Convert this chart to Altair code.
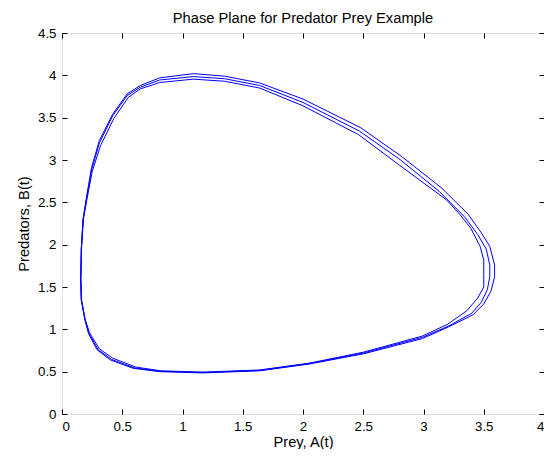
import altair as alt
import pandas as pd

# Three slightly drifting orbits (prey A, predators B)
a_outer = [3.59, 3.55, 3.48, 3.37, 3.15, 2.82, 2.48, 2.00, 1.64, 1.35, 1.09, 0.81, 0.65, 0.54, 0.42, 0.31, 0.245, 0.20, 0.175, 0.16, 0.155, 0.16, 0.19, 0.22, 0.29, 0.40, 0.59, 0.81, 1.17, 1.64, 2.05, 2.50, 2.99, 3.21, 3.41, 3.50, 3.56, 3.59, 3.59]
b_outer = [1.76, 1.98, 2.14, 2.36, 2.67, 3.04, 3.38, 3.72, 3.91, 3.99, 4.02, 3.97, 3.88, 3.78, 3.54, 3.23, 2.91, 2.53, 2.30, 1.95, 1.60, 1.35, 1.11, 0.95, 0.76, 0.64, 0.54, 0.50, 0.485, 0.51, 0.59, 0.71, 0.89, 1.03, 1.17, 1.30, 1.45, 1.62, 1.76]

a_mid = [3.55, 3.52, 3.45, 3.34, 3.13, 2.81, 2.47, 2.00, 1.64, 1.35, 1.09, 0.81, 0.65, 0.54, 0.42, 0.31, 0.245, 0.20, 0.175, 0.16, 0.155, 0.16, 0.19, 0.225, 0.30, 0.41, 0.60, 0.81, 1.17, 1.64, 2.05, 2.50, 2.99, 3.21, 3.40, 3.48, 3.53, 3.55, 3.55]
b_mid = [1.76, 1.95, 2.12, 2.33, 2.63, 3.00, 3.34, 3.68, 3.88, 3.96, 3.985, 3.945, 3.86, 3.76, 3.52, 3.20, 2.88, 2.52, 2.30, 1.95, 1.60, 1.35, 1.12, 0.95, 0.76, 0.645, 0.545, 0.505, 0.49, 0.515, 0.595, 0.72, 0.905, 1.04, 1.19, 1.32, 1.47, 1.62, 1.76]

a_inner = [3.50, 3.47, 3.39, 3.30, 3.19, 2.79, 2.46, 2.00, 1.64, 1.35, 1.09, 0.81, 0.65, 0.55, 0.43, 0.32, 0.25, 0.205, 0.178, 0.162, 0.157, 0.162, 0.192, 0.228, 0.31, 0.42, 0.61, 0.82, 1.17, 1.64, 2.05, 2.50, 2.99, 3.20, 3.36, 3.45, 3.50, 3.50, 3.50]
b_inner = [1.82, 1.98, 2.20, 2.36, 2.53, 2.95, 3.30, 3.64, 3.85, 3.93, 3.955, 3.915, 3.84, 3.74, 3.49, 3.17, 2.86, 2.52, 2.30, 1.95, 1.60, 1.35, 1.12, 0.96, 0.77, 0.66, 0.555, 0.51, 0.495, 0.52, 0.60, 0.73, 0.92, 1.06, 1.22, 1.37, 1.50, 1.65, 1.82]

x_ticks = [0, 0.5, 1, 1.5, 2, 2.5, 3, 3.5, 4]
y_ticks = [0, 0.5, 1, 1.5, 2, 2.5, 3, 3.5, 4, 4.5]

rows = []
for name, xs, ys in [("outer", a_outer, b_outer), ("mid", a_mid, b_mid), ("inner", a_inner, b_inner)]:
    for i, (x, y) in enumerate(zip(xs, ys)):
        rows.append({"loop": name, "idx": i, "A": x, "B": y})
df = pd.DataFrame(rows)

FONT = "Liberation Sans"
W, H = 482, 381
LBL, TTL = 13.3, 14.7
xs = alt.Scale(domain=[0, 4], nice=False, zero=False)
ys = alt.Scale(domain=[0, 4.5], nice=False, zero=False)

main = alt.Chart(df).mark_line(color="#0000ff", strokeWidth=1).encode(
    x=alt.X("A:Q", scale=xs, axis=alt.Axis(values=x_ticks, format="~g", title="Prey, A(t)",
                                           grid=False, domain=False, ticks=False, labelPadding=5,
                                           labelFontSize=LBL, titleFontSize=TTL, labelFont=FONT,
                                           titleFont=FONT, titleFontWeight="normal",
                                           labelColor="black", titleColor="black", titlePadding=2)),
    y=alt.Y("B:Q", scale=ys, axis=alt.Axis(values=y_ticks, format="~g", title="Predators, B(t)",
                                           grid=False, domain=False, ticks=False, labelPadding=6,
                                           labelFontSize=LBL, titleFontSize=TTL, labelFont=FONT,
                                           titleFont=FONT, titleFontWeight="normal",
                                           labelColor="black", titleColor="black", titlePadding=6)),
    detail="loop:N",
    order="idx:Q",
)

def tick_axis(orient, offset, vals):
    return alt.Axis(orient=orient, offset=offset, values=vals, labels=False, domain=False,
                    grid=False, title=None, ticks=True, tickSize=5, tickColor="black")

ticks1 = alt.Chart(df).mark_point(opacity=0).encode(
    x=alt.X("A:Q", scale=xs, axis=tick_axis("top", -H, x_ticks)),
    y=alt.Y("B:Q", scale=ys, axis=tick_axis("right", -W, y_ticks)),
)
ticks2 = alt.Chart(df).mark_point(opacity=0).encode(
    x=alt.X("A:Q", scale=xs, axis=tick_axis("bottom", -H, x_ticks)),
    y=alt.Y("B:Q", scale=ys, axis=tick_axis("left", -W, y_ticks)),
)

chart = alt.layer(main, ticks1, ticks2).resolve_axis(x="independent", y="independent").properties(
    width=W, height=H,
    title=alt.TitleParams("Phase Plane for Predator Prey Example", fontSize=TTL, font=FONT,
                          fontWeight="normal", color="black", offset=4, dy=4, anchor="middle"),
    autosize=alt.AutoSizeParams(type="none"),
    padding={"left": 54, "top": 25, "right": 0, "bottom": 35},
).configure_view(stroke="black", strokeWidth=1).configure(background="white")

chart.save("out.html", embed_options={"renderer": "svg", "actions": False})
